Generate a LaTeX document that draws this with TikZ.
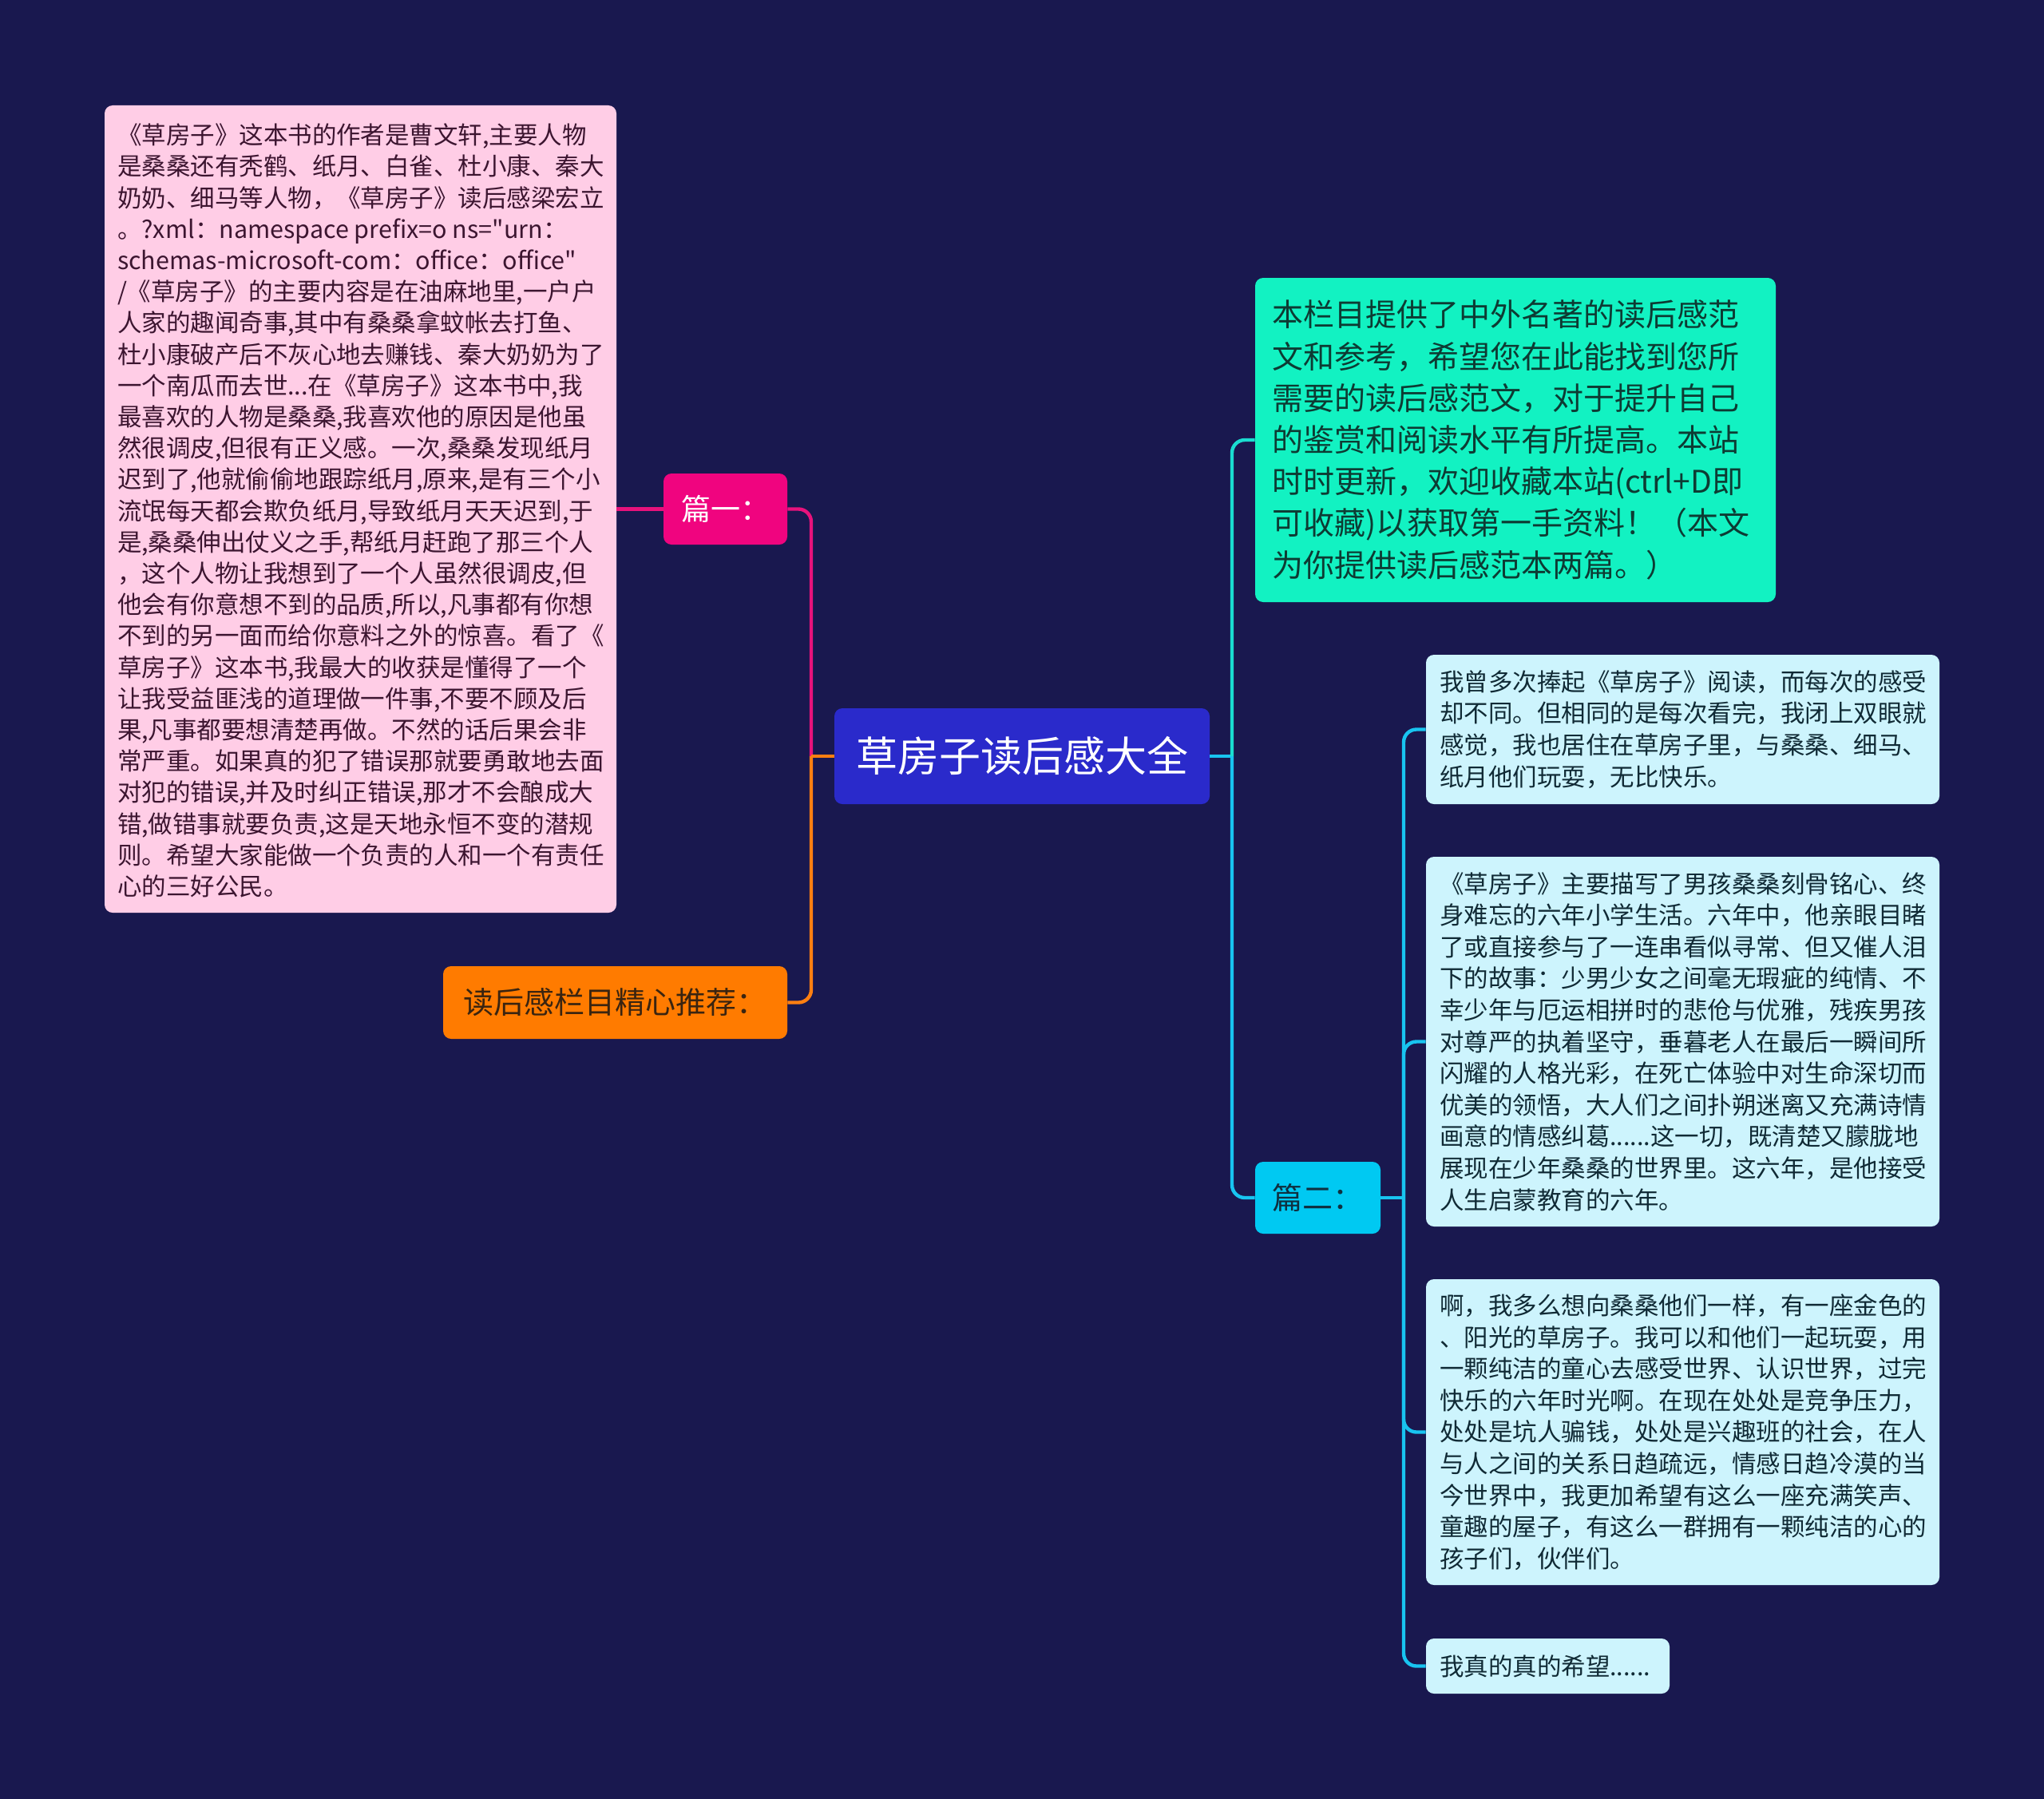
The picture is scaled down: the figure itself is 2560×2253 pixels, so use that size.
\documentclass[tikz,border=0pt]{standalone}
\usepackage{fontspec}
\newfontfamily\cjk{Noto Sans CJK SC}
\definecolor{bgc}{HTML}{19184F}
\definecolor{pinkfill}{HTML}{FFCDE6}
\definecolor{pinktext}{HTML}{3C1530}
\definecolor{magenta}{HTML}{F0047F}
\definecolor{rootfill}{HTML}{2A2ACB}
\definecolor{orangefill}{HTML}{FF7B00}
\definecolor{orangetext}{HTML}{3A2410}
\definecolor{greenfill}{HTML}{12F2C2}
\definecolor{greentext}{HTML}{0D3B33}
\definecolor{cyanfill}{HTML}{00C9F2}
\definecolor{cyantext}{HTML}{0F3040}
\definecolor{lightfill}{HTML}{CDF4FD}
\definecolor{lighttext}{HTML}{102A35}
\definecolor{pinkline}{HTML}{E8127C}
\definecolor{orangeline}{HTML}{FF7F11}
\definecolor{cyanline}{HTML}{18C4F0}
\definecolor{greenline}{HTML}{1ADCD0}
\begin{document}
\begin{tikzpicture}[x=0.5pt,y=-0.5pt,
  boxshape/.style={rounded corners=5pt, inner sep=0pt},
  bodytext/.style={inner sep=0pt, align=left, anchor=west},
  smallfont/.style={font=\cjk\fontsize{15.25pt}{19.8pt}\selectfont},
  pinkfont/.style={font=\cjk\fontsize{15.25pt}{19.6pt}\selectfont},
  link/.style={line width=2.2pt, rounded corners=8pt}
]
\fill[bgc] (0,0) rectangle (2560,2253);
\useasboundingbox (0,0) rectangle (2560,2253);

% root
\node[boxshape, fill=rootfill, minimum width=235pt, minimum height=60pt,
  text=white, font=\cjk\fontsize{26pt}{30pt}\selectfont] (root) at (1280,947) {草房子读后感大全};

% left side
\node[boxshape, fill=pinkfill, minimum width=320.5pt, minimum height=505.5pt] (p1) at (451.5,637.5) {};
\node[bodytext, pinkfont, text=pinktext] (p1t) at ([xshift=8pt,yshift=-1pt]p1.west) {%
《草房子》这本书的作者是曹文轩,主要人物\\
是桑桑还有秃鹤、纸月、白雀、杜小康、秦大\\
奶奶、细马等人物，《草房子》读后感梁宏立\\
。?xml：namespace prefix=o ns="urn：\\
schemas-microsoft-com：office：office"\\
/《草房子》的主要内容是在油麻地里,一户户\\
人家的趣闻奇事,其中有桑桑拿蚊帐去打鱼、\\
杜小康破产后不灰心地去赚钱、秦大奶奶为了\\
一个南瓜而去世...在《草房子》这本书中,我\\
最喜欢的人物是桑桑,我喜欢他的原因是他虽\\
然很调皮,但很有正义感。一次,桑桑发现纸月\\
迟到了,他就偷偷地跟踪纸月,原来,是有三个小\\
流氓每天都会欺负纸月,导致纸月天天迟到,于\\
是,桑桑伸出仗义之手,帮纸月赶跑了那三个人\\
，这个人物让我想到了一个人虽然很调皮,但\\
他会有你意想不到的品质,所以,凡事都有你想\\
不到的另一面而给你意料之外的惊喜。看了《\\
草房子》这本书,我最大的收获是懂得了一个\\
让我受益匪浅的道理做一件事,不要不顾及后\\
果,凡事都要想清楚再做。不然的话后果会非\\
常严重。如果真的犯了错误那就要勇敢地去面\\
对犯的错误,并及时纠正错误,那才不会酿成大\\
错,做错事就要负责,这是天地永恒不变的潜规\\
则。希望大家能做一个负责的人和一个有责任\\
心的三好公民。};

\node[boxshape, fill=magenta, minimum width=77.5pt, minimum height=44.5pt,
  text=white, font=\cjk\fontsize{18.5pt}{22pt}\selectfont] (pian1) at (908.5,637.5) {篇一：};

\node[boxshape, fill=orangefill, minimum width=215.5pt, minimum height=45.5pt,
  text=orangetext, font=\cjk\fontsize{19pt}{22pt}\selectfont] (rec) at (770.5,1255.5) {读后感栏目精心推荐：};

% right side
\node[boxshape, fill=greenfill, minimum width=326pt, minimum height=203pt] (green) at (1898,551) {};
\node[bodytext, text=greentext, font=\cjk\fontsize{19.5pt}{26.1pt}\selectfont] (greent) at ([xshift=10.5pt]green.west) {%
本栏目提供了中外名著的读后感范\\
文和参考，希望您在此能找到您所\\
需要的读后感范文，对于提升自己\\
的鉴赏和阅读水平有所提高。本站\\
时时更新，欢迎收藏本站(ctrl+D即\\
可收藏)以获取第一手资料！（本文\\
为你提供读后感范本两篇。）};

\node[boxshape, fill=cyanfill, minimum width=78.5pt, minimum height=45pt,
  text=cyantext, font=\cjk\fontsize{19pt}{22pt}\selectfont] (pian2) at (1650.5,1500) {篇二：};

\node[boxshape, fill=lightfill, minimum width=321.5pt, minimum height=93.5pt] (ba) at (2107.5,913.5) {};
\node[bodytext, smallfont, text=lighttext] (bat) at ([xshift=8.5pt]ba.west) {%
我曾多次捧起《草房子》阅读，而每次的感受\\
却不同。但相同的是每次看完，我闭上双眼就\\
感觉，我也居住在草房子里，与桑桑、细马、\\
纸月他们玩耍，无比快乐。};

\node[boxshape, fill=lightfill, minimum width=321.5pt, minimum height=231.5pt] (bb) at (2107.5,1304.5) {};
\node[bodytext, smallfont, text=lighttext] (bbt) at ([xshift=8.5pt]bb.west) {%
《草房子》主要描写了男孩桑桑刻骨铭心、终\\
身难忘的六年小学生活。六年中，他亲眼目睹\\
了或直接参与了一连串看似寻常、但又催人泪\\
下的故事：少男少女之间毫无瑕疵的纯情、不\\
幸少年与厄运相拼时的悲伧与优雅，残疾男孩\\
对尊严的执着坚守，垂暮老人在最后一瞬间所\\
闪耀的人格光彩，在死亡体验中对生命深切而\\
优美的领悟，大人们之间扑朔迷离又充满诗情\\
画意的情感纠葛......这一切，既清楚又朦胧地\\
展现在少年桑桑的世界里。这六年，是他接受\\
人生启蒙教育的六年。};

\node[boxshape, fill=lightfill, minimum width=321.5pt, minimum height=191.5pt] (bc) at (2107.5,1793.5) {};
\node[bodytext, smallfont, text=lighttext] (bct) at ([xshift=8.5pt]bc.west) {%
啊，我多么想向桑桑他们一样，有一座金色的\\
、阳光的草房子。我可以和他们一起玩耍，用\\
一颗纯洁的童心去感受世界、认识世界，过完\\
快乐的六年时光啊。在现在处处是竞争压力，\\
处处是坑人骗钱，处处是兴趣班的社会，在人\\
与人之间的关系日趋疏远，情感日趋冷漠的当\\
今世界中，我更加希望有这么一座充满笑声、\\
童趣的屋子，有这么一群拥有一颗纯洁的心的\\
孩子们，伙伴们。};

\node[boxshape, fill=lightfill, minimum width=152.5pt, minimum height=34.5pt] (bd) at (1938.5,2086.5) {};
\node[bodytext, smallfont, text=lighttext] (bdt) at ([xshift=8.5pt]bd.west) {我真的真的希望......};

% junctions
\coordinate (jL) at (1016,947);
\coordinate (jR) at (1543,947);
\coordinate (jR2) at (1758,1500);

% connectors left
\draw[link, pinkline] (p1.east) -- (pian1.west);
\draw[link, pinkline] (pian1.east) -| (jL);
\draw[link, orangeline] (jL) |- (rec.east);
\draw[link, orangeline] (root.west) -- (jL);

% connectors right
\draw[link, cyanline] (root.east) -- (jR);
\draw[link, greenline] (jR) |- (green.west);
\draw[link, cyanline] (jR) |- (pian2.west);
\draw[link, cyanline] (pian2.east) -- (jR2);
\draw[link, cyanline] (jR2) |- (ba.west);
\draw[link, cyanline] (jR2) |- (bb.west);
\draw[link, cyanline] (jR2) |- (bc.west);
\draw[link, cyanline] (jR2) |- (bd.west);
\end{tikzpicture}
\end{document}
